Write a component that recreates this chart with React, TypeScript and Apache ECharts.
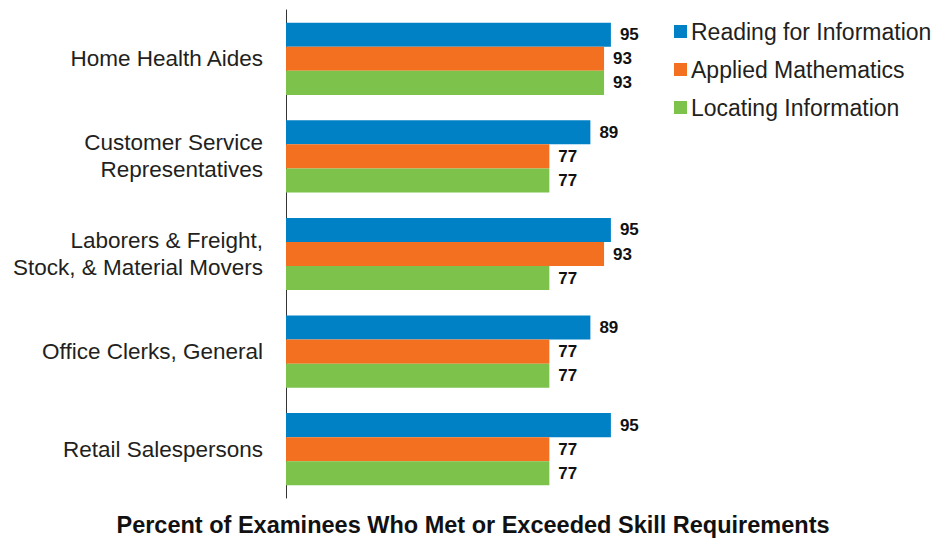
import React, { useEffect, useRef } from "react";
import * as echarts from "echarts";

const categories = [
  "Home Health Aides",
  "Customer Service\nRepresentatives",
  "Laborers & Freight,\nStock, & Material Movers",
  "Office Clerks, General",
  "Retail Salespersons",
];
const readingValues = [95, 89, 95, 89, 95];
const mathValues = [93, 77, 93, 77, 77];
const locatingValues = [93, 77, 77, 77, 77];
const seriesNames = ["Reading for Information", "Applied Mathematics", "Locating Information"];
const colors = ["#0081C6", "#F37021", "#7DC24B"];
const axisTitle = "Percent of Examinees Who Met or Exceeded Skill Requirements";

export default function App() {
  const ref = useRef<HTMLDivElement>(null);
  useEffect(() => {
    if (!ref.current) return;
    const chart = echarts.init(ref.current, undefined, { renderer: "svg" });
    const font = "'Liberation Sans', Arial, sans-serif";
    const mk = (name: string, data: number[], color: string) => ({
      name,
      type: "bar",
      data,
      itemStyle: { color },
      barGap: "0%",
      barCategoryGap: "26%",
      label: {
        show: true,
        position: "right",
        distance: 9,
        color: "#111",
        fontWeight: "bold",
        fontSize: 17,
        fontFamily: font,
      },
    });
    chart.setOption({
      animation: false,
      textStyle: { fontFamily: font },
      title: {
        text: axisTitle,
        left: 468,
        textAlign: "center",
        bottom: -3,
        textStyle: { fontSize: 23.5, fontWeight: "bold", color: "#111", fontFamily: font },
      },
      legend: {
        orient: "vertical",
        left: 669,
        top: 15,
        itemWidth: 13,
        itemHeight: 13,
        itemGap: 15,
        icon: "rect",
        textStyle: { fontSize: 23, color: "#231f20", fontFamily: font, padding: [0, 0, 0, -1] },
        data: seriesNames,
      },
      grid: { left: 286, top: 10, bottom: 41, width: 342, containLabel: false },
      xAxis: {
        type: "value",
        min: 0,
        max: 100,
        show: false,
        splitLine: { show: false },
      },
      yAxis: {
        type: "category",
        data: categories,
        inverse: true,
        axisLine: { show: true, lineStyle: { color: "#333", width: 1 } },
        axisTick: { show: false },
        axisLabel: {
          fontSize: 22.5,
          color: "#231f20",
          margin: 23,
          lineHeight: 27,
          align: "right",
          fontFamily: font,
        },
      },
      series: [
        mk(seriesNames[0], readingValues, colors[0]),
        mk(seriesNames[1], mathValues, colors[1]),
        mk(seriesNames[2], locatingValues, colors[2]),
      ],
    });
    return () => chart.dispose();
  }, []);
  return <div ref={ref} style={{ width: 943, height: 539, position: "absolute", left: 0, top: 0 }} />;
}
